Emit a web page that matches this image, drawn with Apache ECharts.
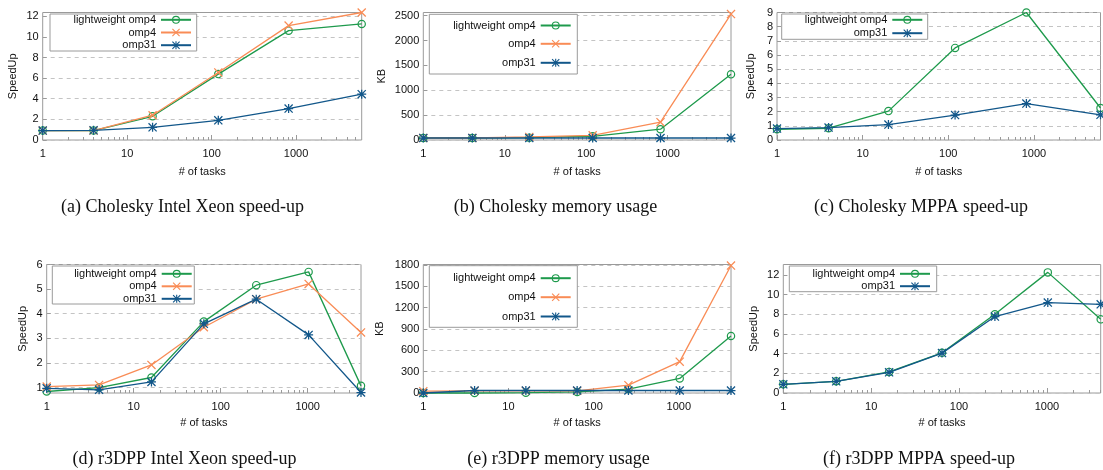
<!DOCTYPE html>
<html><head><meta charset="utf-8">
<script src="https://cdn.jsdelivr.net/npm/echarts@6/dist/echarts.min.js"></script>
<style>html,body{margin:0;padding:0;background:#fff}#c{width:1103px;height:470px}</style>
</head><body><div id="c"></div>
<script>
// ---- data ----
const tasksCholesky = [1, 4, 20, 120, 816, 5984];
const tasksR3dpp = [1, 4, 16, 64, 256, 1024, 4096];
const seriesNames = ['lightweight omp4', 'omp4', 'omp31'];

const cholXeonLight = [0.91, 0.91, 2.3, 6.39, 10.6, 11.25];
const cholXeonOmp4 = [0.91, 0.91, 2.4, 6.55, 11.09, 12.36];
const cholXeonOmp31 = [0.91, 0.94, 1.23, 1.91, 3.05, 4.44];

const cholMemLight = [40, 40, 47, 75, 217, 1321];
const cholMemOmp4 = [40, 40, 61, 95, 359, 2534];
const cholMemOmp31 = [40, 40, 40, 40, 40, 40];

const cholMppaLight = [0.76, 0.83, 2.04, 6.5, 9.0, 2.26];
const cholMppaOmp31 = [0.81, 0.88, 1.09, 1.76, 2.57, 1.78];

const r3XeonLight = [0.84, 1.0, 1.41, 3.68, 5.16, 5.70, 1.07];
const r3XeonOmp4 = [1.04, 1.11, 1.92, 3.45, 4.59, 5.21, 3.24];
const r3XeonOmp31 = [0.97, 0.91, 1.23, 3.59, 4.59, 3.14, 0.8];

const r3MemLight = [0, 0, 5, 15, 55, 205, 800];
const r3MemOmp4 = [25, 30, 30, 30, 110, 440, 1790];
const r3MemOmp31 = [0, 35, 35, 35, 35, 35, 35];

const r3MppaLight = [0.88, 1.19, 2.14, 4.08, 8.0, 12.25, 7.48];
const r3MppaOmp31 = [0.88, 1.19, 2.1, 4.05, 7.76, 9.18, 9.01];

const captions = ['(a) Cholesky Intel Xeon speed-up', '(b) Cholesky memory usage', '(c) Cholesky MPPA speed-up',
  '(d) r3DPP Intel Xeon speed-up', '(e) r3DPP memory usage', '(f) r3DPP MPPA speed-up'];
const yNames = ['SpeedUp', 'KB', 'SpeedUp', 'SpeedUp', 'KB', 'SpeedUp'];
const xName = '# of tasks';
const yTicksA = [0, 2, 4, 6, 8, 10, 12];
const yTicksB = [0, 500, 1000, 1500, 2000, 2500];
const yTicksC = [0, 1, 2, 3, 4, 5, 6, 7, 8, 9];
const yTicksD = [1, 2, 3, 4, 5, 6];
const yTicksE = [0, 300, 600, 900, 1200, 1500, 1800];
const yTicksF = [0, 2, 4, 6, 8, 10, 12];
const yRanges = [[0, 12.36], [0, 2565], [0, 9], [0.78, 6], [0, 1805], [0, 13.05]];

// ---- panels ----
const panelData = [
  {x: tasksCholesky, s: [cholXeonLight, cholXeonOmp4, cholXeonOmp31], ticks: yTicksA},
  {x: tasksCholesky, s: [cholMemLight, cholMemOmp4, cholMemOmp31], ticks: yTicksB},
  {x: tasksCholesky, s: [cholMppaLight, null, cholMppaOmp31], ticks: yTicksC},
  {x: tasksR3dpp, s: [r3XeonLight, r3XeonOmp4, r3XeonOmp31], ticks: yTicksD},
  {x: tasksR3dpp, s: [r3MemLight, r3MemOmp4, r3MemOmp31], ticks: yTicksE},
  {x: tasksR3dpp, s: [r3MppaLight, null, r3MppaOmp31], ticks: yTicksF}
];

// ---- layout / style ----
const layout = [
  {l: 42.7, w: 319, t: 12.5, h: 127.5, yGap: 24, xGap: 26, cap: [182.5, 207],
    box: [50, 14, 146.7, 37], iconRight: 192, rows: [19.3, 32, 44.7]},
  {l: 423.3, w: 307.7, t: 12.5, h: 127.5, yGap: 36, xGap: 26, cap: [555.5, 207],
    box: [429.3, 14.3, 148, 59.7], iconRight: 571.7, rows: [25, 43.3, 62.3]},
  {l: 777, w: 323.5, t: 12.5, h: 127.5, yGap: 21, xGap: 26, cap: [921, 207],
    box: [781.7, 14, 146, 25.3], iconRight: 923.3, rows: [19.3, null, 32.7]},
  {l: 46.7, w: 314.3, t: 264.5, h: 128.5, yGap: 18, xGap: 24, cap: [184.5, 459],
    box: [52.3, 266, 142, 38], iconRight: 192.7, rows: [273.3, 285.8, 298.3]},
  {l: 423.3, w: 307.7, t: 264.5, h: 128.5, yGap: 38, xGap: 24, cap: [558.5, 459],
    box: [429.3, 265.7, 148, 61.6], iconRight: 571.7, rows: [277.7, 296.7, 316]},
  {l: 783.3, w: 317.4, t: 264.5, h: 128.5, yGap: 24, xGap: 24, cap: [919, 459],
    box: [789.3, 266, 147.4, 25.7], iconRight: 931, rows: [273.3, null, 285.7]}
];
const colors = ['#1e9a4c', '#f98c56', '#12578a'];
const SYM_RING = 'path://M0,5A5,5 0 1,0 10,5A5,5 0 1,0 0,5Z M1.4,5A3.6,3.6 0 1,1 8.6,5A3.6,3.6 0 1,1 1.4,5Z';
const SYM_X = 'path://M0,1L1,0L10,9L9,10Z M9,0L10,1L1,10L0,9Z';
const SYM_AST = 'path://M0,1L1,0L10,9L9,10Z M9,0L10,1L1,10L0,9Z M4.3,0L5.7,0L5.7,10L4.3,10Z M0,4.3L10,4.3L10,5.7L0,5.7Z';
const symbols = [SYM_RING, SYM_X, SYM_AST];
const symSizes = [8.5, 9, 9];
const FONT = 'Liberation Sans';
const TXT = '#111';
const FRAME = '#9a9a9a';

function minorTicks(maxV) {
  const out = [];
  for (let d = 1; d <= maxV; d *= 10) for (let m = 2; m <= 9; m++) if (d * m < maxV) out.push(d * m);
  return out;
}

const grids = [], xAxes = [], yAxes = [], series = [], legends = [], graphics = [];
const minorAxes = [];
panelData.forEach((p, i) => {
  const L = layout[i];
  const xMax = p.x[p.x.length - 1];
  grids.push({left: L.l, top: L.t, width: L.w, height: L.h, show: true, borderColor: FRAME, borderWidth: 1, backgroundColor: 'transparent'});
  xAxes.push({
    type: 'log', logBase: 10, gridIndex: i, min: 1, max: xMax,
    name: xName, nameLocation: 'middle', nameGap: L.xGap,
    nameTextStyle: {fontFamily: FONT, fontSize: 11, color: TXT},
    axisLine: {show: false},
    axisTick: {show: true, inside: true, length: 5, lineStyle: {color: FRAME}},
    axisLabel: {fontFamily: FONT, fontSize: 11, color: TXT, margin: 8, showMaxLabel: false,
      formatter: v => String(Math.round(v))},
    splitLine: {show: false}
  });
  const mt = minorTicks(xMax);
  minorAxes.push({
    type: 'log', logBase: 10, gridIndex: i, min: 1, max: xMax, position: 'bottom',
    axisLine: {show: false}, axisLabel: {show: false}, splitLine: {show: false},
    axisTick: {show: true, inside: true, length: 3, lineStyle: {color: FRAME}, customValues: mt}
  });
  const yr = yRanges[i];
  yAxes.push({
    type: 'value', gridIndex: i, min: yr[0], max: yr[1],
    name: yNames[i], nameLocation: 'middle', nameGap: L.yGap, nameMoveOverlap: false,
    nameTextStyle: {fontFamily: FONT, fontSize: 11, color: TXT},
    axisLine: {show: false},
    axisTick: {show: true, inside: true, length: 4, lineStyle: {color: FRAME}, customValues: p.ticks},
    axisLabel: {fontFamily: FONT, fontSize: 11, color: TXT, margin: 4, customValues: p.ticks,
      formatter: v => String(Math.round(v * 100) / 100)},
    splitLine: {show: true, customValues: p.ticks, lineStyle: {color: '#c4c4c4', type: [4, 4], width: 1}}
  });
  p.s.forEach((vals, k) => {
    if (!vals) return;
    series.push({
      type: 'line', name: seriesNames[k], xAxisIndex: i, yAxisIndex: i,
      data: p.x.map((x, j) => [x, vals[j]]),
      symbol: symbols[k], symbolSize: symSizes[k], showAllSymbol: true, clip: false,
      lineStyle: {color: colors[k], width: 1.3},
      itemStyle: {color: colors[k], borderWidth: 0},
      emphasis: {disabled: true}, z: 3 + k
    });
    legends.push({
      data: [seriesNames[k]], orient: 'vertical', align: 'right',
      right: 1103 - L.iconRight, top: L.rows[k] - 5, itemWidth: 30, itemHeight: 10, padding: 0,
      selectedMode: false, z: 20,
      textStyle: {fontFamily: FONT, fontSize: 11, color: TXT}
    });
  });
  graphics.push({type: 'rect', z: 15, shape: {x: L.box[0], y: L.box[1], width: L.box[2], height: L.box[3]},
    style: {fill: '#fff', stroke: FRAME, lineWidth: 1}});
  graphics.push({type: 'text', z: 15, x: L.cap[0], y: L.cap[1],
    style: {text: captions[i], textAlign: 'center', textVerticalAlign: 'middle', fontFamily: 'Liberation Serif', fontSize: 18, fill: '#111'}});
});

const chart = echarts.init(document.getElementById('c'), null, {renderer: 'canvas'});
chart.setOption({
  animation: false,
  backgroundColor: '#fff',
  grid: grids, xAxis: xAxes.concat(minorAxes), yAxis: yAxes, series: series, legend: legends, graphic: graphics
});
</script></body></html>
